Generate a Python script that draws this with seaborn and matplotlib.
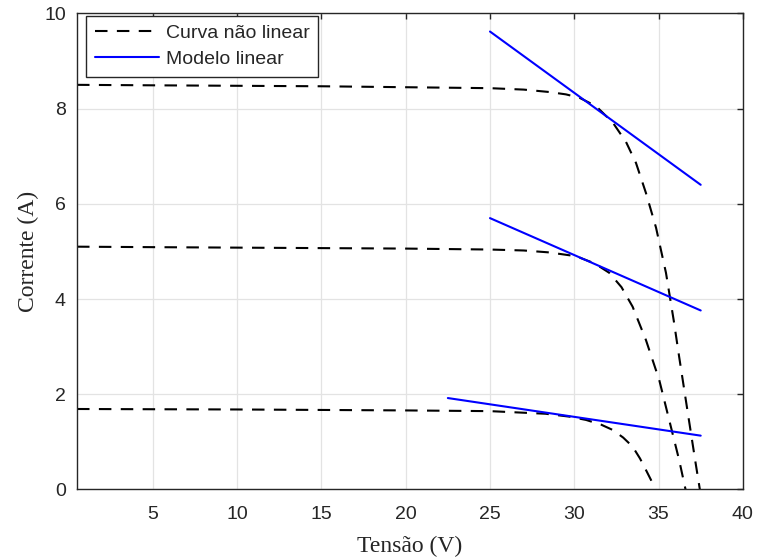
import numpy as np
import pandas as pd
import seaborn as sns
import matplotlib.pyplot as plt

# curvas I-V (não lineares)
v_alta = [0.5, 5, 10, 15, 20, 25, 27, 28.5, 29.5, 30.3, 31.3, 32.3, 33.07, 33.66, 34.25, 34.85, 35.44, 35.9, 36.22, 36.8, 37.2, 37.45]
i_alta = [8.50, 8.49, 8.48, 8.47, 8.45, 8.43, 8.40, 8.35, 8.30, 8.23, 8.05, 7.70, 7.30, 6.86, 6.23, 5.50, 4.55, 3.55, 2.79, 1.46, 0.55, 0.0]

v_media = [0.5, 5, 10, 15, 20, 25, 27, 28.5, 30.1, 31.2, 32.08, 32.8, 33.46, 34.25, 35.04, 35.63, 36.22, 36.6]
i_media = [5.10, 5.09, 5.08, 5.07, 5.06, 5.04, 5.02, 4.98, 4.90, 4.75, 4.55, 4.25, 3.84, 3.14, 2.30, 1.46, 0.62, 0.0]

v_baixa = [0.5, 5, 10, 15, 20, 25, 28.3, 29.7, 30.7, 31.6, 32.28, 32.9, 33.46, 33.9, 34.25, 34.55, 34.8]
i_baixa = [1.69, 1.685, 1.68, 1.67, 1.66, 1.645, 1.59, 1.53, 1.46, 1.36, 1.25, 1.09, 0.90, 0.65, 0.41, 0.2, 0.0]

# modelos lineares (extremos das retas)
v_lin_alta = [25, 37.5]
i_lin_alta = [9.62, 6.40]
v_lin_media = [25, 37.5]
i_lin_media = [5.70, 3.76]
v_lin_baixa = [22.5, 37.5]
i_lin_baixa = [1.92, 1.13]

x_ticks = [5, 10, 15, 20, 25, 30, 35, 40]
y_ticks = [0, 2, 4, 6, 8, 10]


def build_df():
    rows = []
    series = [
        ("c1", "Curva não linear", v_alta, i_alta),
        ("c2", "Curva não linear", v_media, i_media),
        ("c3", "Curva não linear", v_baixa, i_baixa),
        ("l1", "Modelo linear", v_lin_alta, i_lin_alta),
        ("l2", "Modelo linear", v_lin_media, i_lin_media),
        ("l3", "Modelo linear", v_lin_baixa, i_lin_baixa),
    ]
    for cid, tipo, vs, is_ in series:
        for v, i in zip(vs, is_):
            rows.append({"curva": cid, "tipo": tipo, "V": v, "I": i})
    return pd.DataFrame(rows)


def main():
    df = build_df()
    sns.set_style("white")
    plt.rcParams["font.family"] = ["Liberation Sans", "DejaVu Sans"]

    fig, ax = plt.subplots(figsize=(7.58, 5.6), dpi=100)
    fig.subplots_adjust(left=0.1016, right=0.980, bottom=0.126, top=0.976)

    sns.lineplot(data=df, x="V", y="I", hue="tipo", style="tipo", units="curva",
                 estimator=None, sort=False, ax=ax, linewidth=1.5,
                 palette={"Curva não linear": "black", "Modelo linear": "#0000ff"},
                 dashes={"Curva não linear": (6, 4.5), "Modelo linear": ""})

    ax.set_xlim(0.5, 40)
    ax.set_ylim(0, 10)
    ax.set_xticks(x_ticks)
    ax.set_yticks(y_ticks)
    ax.grid(True, color="#e3e3e3", linewidth=0.9)
    ax.set_axisbelow(True)
    for s in ax.spines.values():
        s.set_visible(True)
        s.set_color("#262626")
        s.set_linewidth(1.0)
    ax.tick_params(direction="in", length=4.5, width=1.0, color="#262626",
                   top=True, right=True, labelsize=14, labelcolor="#262626")
    ax.tick_params(axis="x", pad=12)
    ax.tick_params(axis="y", pad=8)

    ax.set_xlabel("Tensão (V)", fontsize=17, family="Liberation Serif", labelpad=9)
    ax.set_ylabel("Corrente (A)", fontsize=17, family="Liberation Serif", labelpad=4)

    old = ax.get_legend()
    handles = old.legend_handles
    labels = [t.get_text() for t in old.get_texts()]
    old.remove()
    leg = ax.legend(handles, labels, loc="upper left", bbox_to_anchor=(0.0135, 0.9954),
                    fontsize=14, frameon=True, fancybox=False, edgecolor="#262626",
                    framealpha=1, handlelength=3.3, borderaxespad=0, borderpad=0.45,
                    labelspacing=0.42, handletextpad=0.35)
    leg.get_frame().set_linewidth(1.0)

    fig.savefig("out.png", dpi=100)


if __name__ == "__main__":
    main()
